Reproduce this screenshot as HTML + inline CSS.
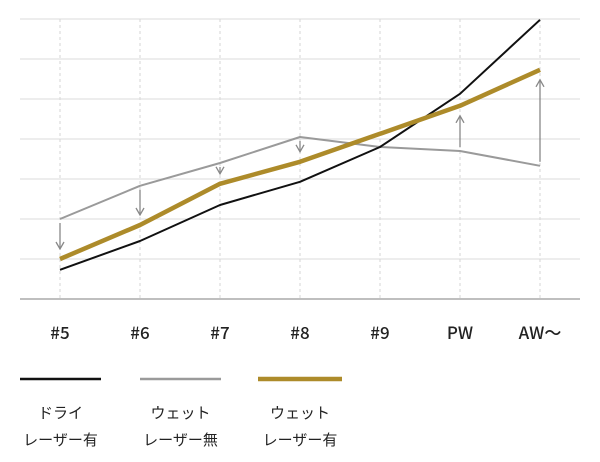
<!DOCTYPE html>
<html><head><meta charset="utf-8"><style>
html,body{margin:0;padding:0;background:#fff;width:600px;height:462px;overflow:hidden}
text{font-family:"Noto Sans CJK JP","Liberation Sans",sans-serif}
</style></head><body>
<svg id="chart" width="600" height="462" viewBox="0 0 600 462" xmlns="http://www.w3.org/2000/svg">
<g id="grid"></g>
<g id="series"></g>
<g id="arrows"></g>
<g id="xlabels"></g>
<g id="legend"></g>
</svg>
<script>
const categories = ["#5","#6","#7","#8","#9","PW","AW〜"];
const dryLaser = [0.73,1.45,2.35,2.93,3.8,5.13,6.98];
const wetNoLaser = [2.0,2.83,3.4,4.05,3.8,3.7,3.33];
const wetLaser = [1.0,1.85,2.88,3.43,4.13,4.83,5.73];
const arrowIdx = [0,1,2,3,5,6];
const gridTicks = [0,1,2,3,4,5,6,7];
const legendLabels = [["ドライ","レーザー有"],["ウェット","レーザー無"],["ウェット","レーザー有"]];

const NS="http://www.w3.org/2000/svg";
function xs(i){return 60+i*80;}
function ys(v){return 299-v*40;}
function mk(tag,attrs,parent){const e=document.createElementNS(NS,tag);for(const k in attrs)e.setAttribute(k,attrs[k]);parent.appendChild(e);return e;}
const grid=document.getElementById('grid');
gridTicks.forEach(t=>{
  if(t===0)return;
  const l=mk('line',{x1:20,x2:580,y1:ys(t),y2:ys(t),stroke:'#e2e2e2','stroke-width':1.2},grid);
  
  
});
categories.forEach((c,i)=>{
  const l=mk('line',{x1:xs(i),x2:xs(i),y1:19,y2:298,stroke:'#d6d6d6','stroke-width':1,'stroke-dasharray':'3,3'},grid);
  
  
});
const ax=mk('line',{x1:20,x2:580,y1:299,y2:299,stroke:'#aaa','stroke-width':1.5},grid);



const ser=document.getElementById('series');
function line(vals,color,w,name){
  const p=mk('polyline',{points:vals.map((v,i)=>xs(i)+','+ys(v)).join(' '),fill:'none',stroke:color,'stroke-width':w,'stroke-linejoin':'round'},ser);
  
  
}
line(wetNoLaser,'#9a9a9a',2,'line-wet-no-laser');
line(dryLaser,'#111',2,'line-dry-laser');
line(wetLaser,'#ad8b2a',4.5,'line-wet-laser');

const arr=document.getElementById('arrows');
arrowIdx.forEach(i=>{
  const x=xs(i),y0=ys(wetNoLaser[i]),y1=ys(wetLaser[i]);
  const dir=y1>y0?1:-1;
  const s=y0+dir*4,e=y1-dir*10;
  const g=mk('g',{},arr);
  
  
  mk('line',{x1:x,x2:x,y1:s,y2:e,stroke:'#888','stroke-width':1.3},g);
  mk('polyline',{points:(x-4)+','+(e-dir*7)+' '+x+','+e+' '+(x+4)+','+(e-dir*7),fill:'none',stroke:'#888','stroke-width':1.3},g);
});

const xl=document.getElementById('xlabels');
categories.forEach((c,i)=>{
  const t=mk('text',{x:xs(i),y:339,'text-anchor':'middle','font-size':17,'font-weight':500,fill:'#222'},xl);
  t.textContent=c;
  
  
});

const lg=document.getElementById('legend');
const lcols=['#111','#9a9a9a','#ad8b2a'],lw=[2.5,2.5,4.5],lx=[[20,101],[140,221],[258,342]];
legendLabels.forEach((lab,i)=>{
  const g=mk('g',{},lg);
  
  
  mk('line',{x1:lx[i][0],x2:lx[i][1],y1:379,y2:379,stroke:lcols[i],'stroke-width':lw[i]},g);
  const cx=(lx[i][0]+lx[i][1])/2;
  lab.forEach((s,j)=>{
    const t=mk('text',{x:cx,y:418+j*27,'text-anchor':'middle','font-size':15,fill:'#222'},g);
    t.textContent=s;
  });
});
</script>
</body></html>
